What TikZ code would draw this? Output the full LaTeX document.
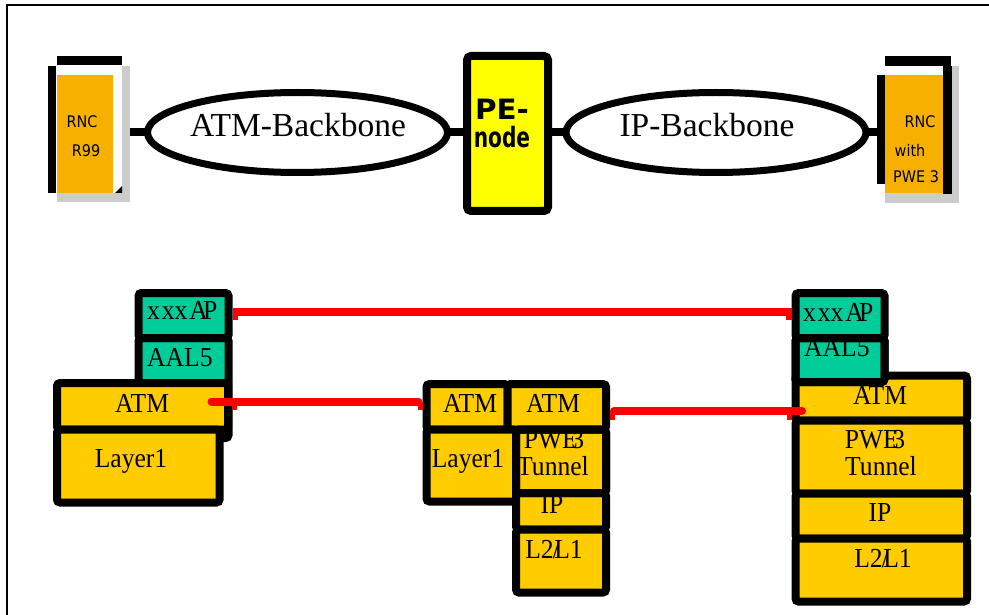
\documentclass[tikz,border=0pt]{standalone}
\usepackage{fontspec}
\setmainfont{Liberation Serif}
\newfontfamily\rncfont{DejaVu Sans}
\newfontfamily\pefont{DejaVu Sans}
\usetikzlibrary{shapes.geometric,backgrounds}
\definecolor{rncorange}{RGB}{248,176,0}
\definecolor{cellgold}{RGB}{255,204,0}
\definecolor{cellteal}{RGB}{0,204,153}
\definecolor{peyellow}{RGB}{255,255,0}
\definecolor{shadowgray}{RGB}{204,204,204}
\definecolor{linkred}{RGB}{255,0,0}
\newcommand\narrowtxt[1]{\scalebox{0.93}[1]{#1}}
\begin{document}
\begin{tikzpicture}[x=1pt,y=-1pt,
  cell/.style={draw=black, line width=8pt, rounded corners=3pt, inner sep=0pt},
  cellborder/.style={draw=black, line width=8pt, rounded corners=3pt},
  lbl/.style={font=\fontsize{27.5}{32}\selectfont, inner sep=0pt, anchor=base},
  lbll/.style={lbl, anchor=base west},
  bbtxt/.style={font=\fontsize{33.5}{40}\selectfont, inner sep=0pt, anchor=base},
  rnctxt/.style={font=\rncfont\fontsize{16}{19}\selectfont, inner sep=0pt, anchor=base},
  petxt/.style={font=\pefont\bfseries\fontsize{28}{32}\selectfont, inner sep=0pt, anchor=base},
  bb/.style={ellipse, draw=black, line width=7pt, fill=white, inner sep=0pt,
             minimum width=300pt, minimum height=80pt},
  conn/.style={draw=black, line width=8pt},
  redlink/.style={draw=linkred, line width=8pt},
  redflag/.style={fill=linkred},
]
\useasboundingbox (0,0) rectangle (989,615);
% frame
\draw[line width=1.5pt] (7,615) -- (7,5) -- (989,5);

% ---- left RNC
\node[fill=shadowgray, inner sep=0pt, minimum width=73pt, minimum height=136pt] (rncLsh) at (93.5,134) {};
\fill[white] (57,65) rectangle (122,193);
\node[fill=rncorange, inner sep=0pt, minimum width=56pt, minimum height=118pt] (rncL) at (85,134) {};
\fill[black] (57,56) rectangle (122,65);
\fill[black] (48,66) rectangle (56,193);
\fill[black] (115,193) -- (122,193) -- (122,186) -- cycle;
\node[rnctxt] (rncL1) at (82,128) {\scalebox{0.9}[1]{RNC}};
\node[rnctxt] (rncL2) at (86,157) {\scalebox{0.9}[1]{R99}};

% ---- right RNC
\fill[shadowgray] (885,66) rectangle (959,203);
\fill[white] (885,66) rectangle (943,75);
\node[fill=rncorange, inner sep=0pt, minimum width=58pt, minimum height=118pt] (rncR) at (914,134) {};
\node[rnctxt] (rncR1) at (920,128) {\scalebox{0.9}[1]{RNC}};
\node[rnctxt] (rncR2) at (910,157) {\scalebox{0.9}[1]{with}};
\node[rnctxt, anchor=base west] (rncR3) at (893,183) {\scalebox{0.9}[1]{PWE 3}};
\fill[black] (885,56) rectangle (951,66);
\fill[black] (943,66) rectangle (952,194);
\node[fill=black, inner sep=0pt, minimum width=8pt, minimum height=109pt] (rncRbar) at (881,129.5) {};

% ---- backbones and PE node
\node[bb] (atmbb) at (297.5,132.5) {};
\node[bbtxt] (atmbbt) at (298,137) {ATM-Backbone};
\node[bb] (ipbb) at (716,132.5) {};
\node[bbtxt] (ipbbt) at (707,137) {IP-Backbone};
\node[draw=black, line width=8pt, fill=peyellow, rounded corners=4pt, inner sep=0pt,
      minimum width=81pt, minimum height=155pt] (pe) at (507.5,133.5) {};
\node[petxt] (pe1) at (502,120) {\scalebox{1.05}[1]{PE-}};
\node[petxt] (pe2) at (502,148) {\scalebox{0.72}[1]{node}};

\begin{scope}[on background layer]
\fill[white] (0,0) rectangle (989,615);
\draw[conn] (atmbb.center -| rncLsh.east) -- (atmbb.center);
\draw[conn] (atmbb.center) -- (atmbb.center -| pe.center);
\draw[conn] (ipbb.center -| pe.center) -- (ipbb.center);
\draw[conn] (ipbb.center) -- (ipbb.center -| rncRbar.center);
\end{scope}

% ---- left stack
\node[cell, fill=cellteal, minimum width=90pt, minimum height=100pt] (L-aal5) at (183.5,388) {};
\node[cell, fill=cellteal, minimum width=90pt, minimum height=45pt] (L-xxap) at (183.5,315.5) {};
\node[cell, fill=cellgold, minimum width=171pt, minimum height=46.5pt] (L-atm) at (142.5,406.25) {};
\node[cell, fill=cellgold, minimum width=162.5pt, minimum height=73pt] (L-layer1) at (138.25,466) {};
\node[lbll] (t-lxxap) at (147,319) {\narrowtxt{x\kern2pt xx\kern2pt A\kern-5pt P}};
\node[lbll] (t-laal5) at (147,366) {\narrowtxt{AAL5}};
\node[lbl] (t-latm) at (142,412) {\narrowtxt{ATM}};
\node[lbl] (t-llayer1) at (131,467) {\narrowtxt{Layer1}};

% ---- middle stack
\node[cell, fill=cellgold, minimum width=81pt, minimum height=45.5pt] (M-atmL) at (467,406.75) {};
\node[cell, fill=cellgold, minimum width=98.5pt, minimum height=45.5pt] (M-atmR) at (556.75,406.75) {};
\node[cell, fill=cellgold, minimum width=89.5pt, minimum height=72pt] (M-layer1) at (471.25,465.5) {};
\node[cell, fill=cellgold, minimum width=90pt, minimum height=63.5pt] (M-pwe) at (561,461.25) {};
\node[cell, fill=cellgold, minimum width=90pt, minimum height=36.5pt] (M-ip) at (561,511.25) {};
\node[cell, fill=cellgold, minimum width=90pt, minimum height=63pt] (M-l2) at (561,561) {};
\node[lbl] (t-matml) at (470,412) {\narrowtxt{ATM}};
\node[lbl] (t-matmr) at (553,412) {\narrowtxt{ATM}};
\node[lbl] (t-mlayer1) at (468,467) {\narrowtxt{Layer1}};
\node[lbl] (t-mpwe) at (554,448) {\narrowtxt{PWE\kern-7pt 3}};
\node[lbl] (t-mtun) at (553,475) {\narrowtxt{Tunnel}};
\node[lbl] (t-mip) at (552,513) {\narrowtxt{IP}};
\node[lbl] (t-ml2) at (554,558) {\narrowtxt{L2\kern-1pt/\kern-6pt L1}};
\draw[cellborder] ([shift={(4,4)}]M-pwe.north west) rectangle ([shift={(-4,-4)}]M-pwe.south east);

% ---- right stack
\node[cell, fill=cellgold, minimum width=171.5pt, minimum height=45pt] (R-atm) at (881.25,398) {};
\node[cell, fill=cellgold, minimum width=171.5pt, minimum height=73pt] (R-pwe) at (881.25,457) {};
\node[cell, fill=cellgold, minimum width=171.5pt, minimum height=45pt] (R-ip) at (881.25,516) {};
\node[cell, fill=cellgold, minimum width=171.5pt, minimum height=63pt] (R-l2) at (881.25,570) {};
\node[cell, fill=cellteal, minimum width=89pt, minimum height=44pt] (R-aal5) at (840,360) {};
\node[cell, fill=cellteal, minimum width=89pt, minimum height=45pt] (R-xxap) at (840,315.5) {};
\node[lbll] (t-rxxap) at (803,321) {\narrowtxt{x\kern2pt xx\kern2pt A\kern-5pt P}};
\node[lbll] (t-raal5) at (804,356) {\narrowtxt{AAL5}};
\node[lbl] (t-ratm) at (880,404) {\narrowtxt{ATM}};
\node[lbl] (t-rpwe) at (875,448) {\narrowtxt{PWE\kern-7pt 3}};
\node[lbl] (t-rtun) at (881,475) {\narrowtxt{Tunnel}};
\node[lbl] (t-rip) at (880,521) {\narrowtxt{IP}};
\node[lbl] (t-rl2) at (883,567) {\narrowtxt{L2\kern-1pt/\kern-6pt L1}};
\draw[cellborder] ([shift={(4,4)}]R-aal5.north west) rectangle ([shift={(-4,-4)}]R-aal5.south east);

% ---- red links
\draw[redlink] ([yshift=4pt]L-xxap.east) -- ([yshift=4pt]R-xxap.west);
\fill[redflag] ([yshift=4pt]L-xxap.east) rectangle ++(5,8.5);
\fill[redflag] ([yshift=4pt]R-xxap.west) rectangle ++(-5.5,8.5);

\draw[redlink, line cap=round, shorten >=4pt] ([xshift=-20.5pt,yshift=4.75pt]L-atm.east) -- ([yshift=5.25pt]M-atmL.west);
\fill[redflag] ([yshift=4.75pt]L-atm.east) rectangle ++(5,8.5);
\fill[redflag] ([yshift=5.25pt]M-atmL.west) rectangle ++(-5,8.5);

\draw[redlink, line cap=round, shorten <=4pt] ([yshift=-4.25pt]M-atmR.east) -- ([xshift=10.5pt,yshift=-13pt]R-atm.west);
\fill[redflag] ([yshift=-4.25pt]M-atmR.east) rectangle ++(5,9);
\fill[redflag] ([yshift=-13pt]R-atm.west) rectangle ++(-5,9);
\end{tikzpicture}
\end{document}
